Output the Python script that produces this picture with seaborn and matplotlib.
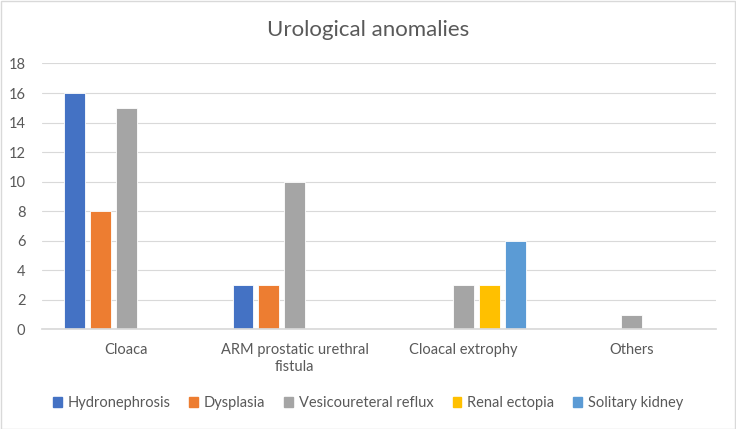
import numpy as np
import pandas as pd
import seaborn as sns
import matplotlib.pyplot as plt
from matplotlib.patches import Rectangle

categories = ['Cloaca', 'ARM prostatic urethral\nfistula', 'Cloacal extrophy', 'Others']
series = ['Hydronephrosis', 'Dysplasia', 'Vesicoureteral reflux', 'Renal ectopia', 'Solitary kidney']
hydronephrosis = [16, 3, 0, 0]
dysplasia = [8, 3, 0, 0]
vesicoureteral_reflux = [15, 10, 3, 1]
renal_ectopia = [0, 0, 3, 0]
solitary_kidney = [0, 0, 6, 0]
colors = ['#4472C4', '#ED7D31', '#A5A5A5', '#FFC000', '#5B9BD5']

values = [hydronephrosis, dysplasia, vesicoureteral_reflux, renal_ectopia, solitary_kidney]
rows = []
for name, vals in zip(series, values):
    for cat, v in zip(categories, vals):
        rows.append({'category': cat, 'series': name, 'count': v})
df = pd.DataFrame(rows)

sns.set_theme(style='white')
plt.rcParams['font.family'] = ['Lato', 'DejaVu Sans']

fig = plt.figure(figsize=(7.36, 4.29), dpi=100)
ax = fig.add_axes([0.0571, 0.232, 0.9158, 0.620])

sns.barplot(data=df, x='category', y='count', hue='series', hue_order=series,
            order=categories, palette=colors, width=0.77, gap=0.2, ax=ax,
            legend=False, saturation=1, edgecolor='white', linewidth=0.6)

ax.set_ylim(0, 18)
ax.set_xlim(-0.5, 3.5)
ax.set_yticks(range(0, 19, 2))
ax.yaxis.grid(True, color='#D9D9D9', linewidth=0.8)
ax.set_axisbelow(True)
for s in ['top', 'right', 'left']:
    ax.spines[s].set_visible(False)
ax.spines['bottom'].set_color('#D9D9D9')
ax.set_xlabel('')
ax.set_ylabel('')
ax.tick_params(axis='both', length=0, labelsize=10.5, colors='#595959')
ax.tick_params(axis='y', pad=12)
ax.tick_params(axis='x', pad=10)

# title centred on the whole figure, like the Excel chart
fig.text(0.5, 0.93, 'Urological anomalies', ha='center', va='center',
         fontsize=16, color='#595959')

handles = [Rectangle((0, 0), 1, 1, color=c) for c in colors]
fig.legend(handles, series, loc='center', bbox_to_anchor=(0.5, 0.06), ncol=5,
           frameon=False, fontsize=10.5, handlelength=0.6, handleheight=0.6,
           handletextpad=0.4, columnspacing=1.3, labelcolor='#595959')

fig.patches.append(Rectangle((0.001, 0.001), 0.997, 0.997, transform=fig.transFigure,
                             fill=False, edgecolor='#D9D9D9', linewidth=1))

fig.savefig('out.png', dpi=100)
